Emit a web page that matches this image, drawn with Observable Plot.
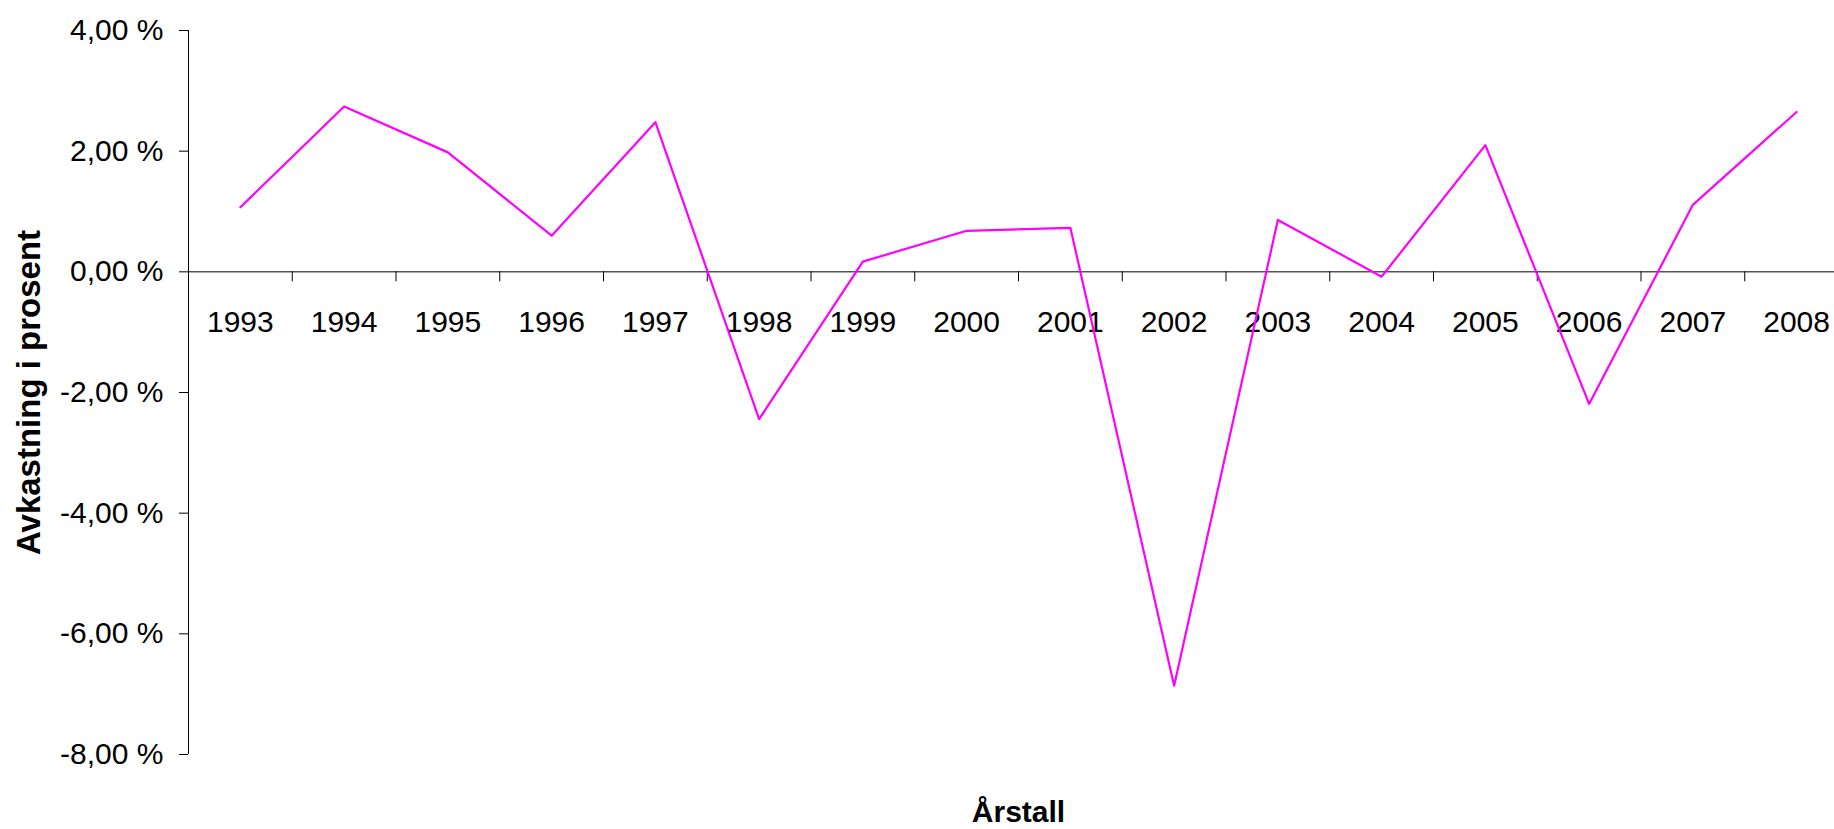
<!DOCTYPE html>
<html>
<head>
<meta charset="utf-8">
<script src="https://cdn.jsdelivr.net/npm/d3@7"></script>
<script src="https://cdn.jsdelivr.net/npm/@observablehq/plot@0.6"></script>
<style>
  html, body { margin: 0; padding: 0; background: #fff; }
  #chart { width: 1834px; height: 829px; }
</style>
</head>
<body>
<div id="chart"></div>
<script>
const years = [1993, 1994, 1995, 1996, 1997, 1998, 1999, 2000, 2001, 2002, 2003, 2004, 2005, 2006, 2007, 2008];
const returns = [1.07, 2.74, 1.98, 0.60, 2.48, -2.44, 0.17, 0.68, 0.73, -6.86, 0.86, -0.08, 2.10, -2.19, 1.11, 2.65];
const yTicks = [-8, -6, -4, -2, 0, 2, 4];
const xTitle = "Årstall";
const yTitle = "Avkastning i prosent";

const data = years.map((year, i) => ({year, value: returns[i]}));
const boundaries = years.map(y => y - 0.5).concat([years[years.length - 1] + 0.5]);
const fmt = d => d.toFixed(2).replace(".", ",") + " %";
const font = "'Liberation Sans', Arial, sans-serif";

const chart = Plot.plot({
  width: 1834,
  height: 829,
  marginLeft: 188,
  marginRight: 0,
  marginTop: 30,
  marginBottom: 75,
  style: {fontFamily: font, fontSize: "30px", color: "#000", background: "#fff"},
  x: {domain: [years[0] - 0.5, years[years.length - 1] + 0.5], range: [188, 1848], axis: null},
  y: {domain: [-8, 4], axis: null},
  marks: [
    Plot.axisY({ticks: yTicks, tickFormat: fmt, tickSize: 9, tickPadding: 16, fontSize: 30, label: null, stroke: "#000"}),
    Plot.ruleX([years[0] - 0.5], {stroke: "#000", strokeWidth: 1}),
    Plot.ruleY([0], {stroke: "#000", strokeWidth: 1}),
    Plot.ruleX(boundaries, {y1: 0, y2: 0, insetBottom: -10, stroke: "#000", strokeWidth: 1}),
    Plot.text(years, {x: d => d, y: 0, text: d => String(d), dy: 51, fontSize: 30, fill: "#000"}),
    Plot.line(data, {x: "year", y: "value", stroke: "#ff00ff", strokeWidth: 2.2}),
    Plot.text([xTitle], {x: [(years[0] + years[years.length - 1]) / 2], frameAnchor: "bottom", lineAnchor: "middle", dy: 58, fontSize: 30, fontWeight: "bold", fill: "#000"}),
    Plot.text([yTitle], {frameAnchor: "left", textAnchor: "middle", rotate: -90, lineAnchor: "middle", dx: -159, fontSize: 33, fontWeight: "bold", fill: "#000"})
  ]
});
document.getElementById("chart").appendChild(chart);
</script>
</body>
</html>
